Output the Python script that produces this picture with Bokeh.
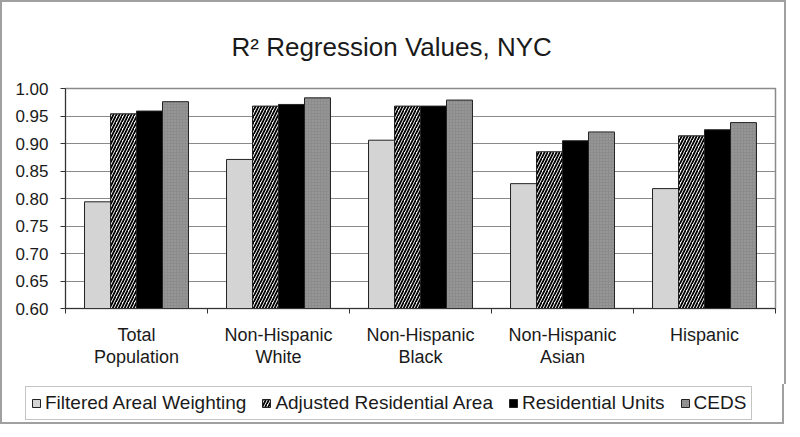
from bokeh.plotting import figure
from bokeh.models import (ColumnDataSource, Range1d, FixedTicker,
                          PrintfTickFormatter, Legend, LegendItem)
from bokeh.transform import dodge
from bokeh.embed import file_html
from bokeh.resources import INLINE

# ---- data ----
categories = ["Total\nPopulation", "Non-Hispanic\nWhite", "Non-Hispanic\nBlack",
              "Non-Hispanic\nAsian", "Hispanic"]
series_names = ["Filtered Areal Weighting", "Adjusted Residential Area",
                "Residential Units", "CEDS"]
faw = [0.794, 0.871, 0.906, 0.827, 0.818]
ara = [0.954, 0.968, 0.968, 0.885, 0.914]
ru = [0.959, 0.971, 0.968, 0.905, 0.925]
ceds = [0.976, 0.983, 0.979, 0.921, 0.938]
y_ticks = [0.60, 0.65, 0.70, 0.75, 0.80, 0.85, 0.90, 0.95, 1.00]

FONT = "Liberation Sans"
TXT = "#1a1a1a"
BORDER = "2px solid #a0a0a0"

pos = [i + 0.5 for i in range(len(categories))]
src = ColumnDataSource(dict(x=pos, faw=faw, ara=ara, ru=ru, ceds=ceds))

p = figure(frame_width=710, frame_height=220, output_backend="svg", toolbar_location=None,
           x_range=Range1d(0, len(categories)), y_range=Range1d(y_ticks[0], y_ticks[-1]),
           min_border_left=63, min_border_right=9, min_border_top=86, min_border_bottom=76)
p.styles = {"border": BORDER, "border-bottom": "none"}

p.title.text = "R\u00b2 Regression Values, NYC"
p.title.text_font = FONT
p.title.text_font_size = "26px"
p.title.text_font_style = "normal"
p.title.text_color = TXT
p.title.align = "left"
p.title.offset = 166
p.title.standoff = 53

bw = 0.183
styles = [
    dict(field="faw", fill_color="#d4d4d4"),
    dict(field="ara", fill_color="white", hatch_pattern="/", hatch_color="black",
         hatch_weight=1.8, hatch_scale=6),
    dict(field="ru", fill_color="black"),
    dict(field="ceds", fill_color="#8c8c8c", hatch_pattern=".", hatch_color="#a4a4a4",
         hatch_weight=1, hatch_scale=3),
]

# legend strip below the chart (its own small figure; its proxy bars are hidden)
p2 = figure(width=784, height=40, output_backend="svg", toolbar_location=None,
            x_range=Range1d(0, len(categories)), y_range=Range1d(0, 1),
            x_axis_type=None, y_axis_type=None, min_border=0)
p2.styles = {"border": BORDER, "border-top": "none"}
p2.outline_line_color = None
p2.grid.visible = False
p2.title.visible = False

items = []
for k, st in enumerate(styles):
    st = dict(st)
    field = st.pop("field")
    p.vbar(x=dodge("x", (k - 1.5) * bw, range=p.x_range), top=field, bottom=y_ticks[0],
           width=bw, source=src, line_color="#222222", line_width=1, **st)
    r2 = p2.vbar(x=dodge("x", (k - 1.5) * bw, range=p2.x_range), top=field,
                 bottom=y_ticks[0], width=bw, source=src, line_color="#222222",
                 line_width=1, visible=False, **st)
    items.append(LegendItem(label=series_names[k], renderers=[r2]))

legend = Legend(items=items, orientation="horizontal", location=(23, 4),
                label_text_font=FONT, label_text_font_size="19px", label_text_color=TXT,
                glyph_width=10, glyph_height=10, label_standoff=4, spacing=15,
                padding=5, margin=0, border_line_color="#8a8a8a", border_line_width=1.5,
                label_height=20, background_fill_color="white", background_fill_alpha=1,
                inactive_fill_alpha=0)
p2.add_layout(legend, "center")

# axes
xa = p.xaxis[0]
xa.ticker = FixedTicker(ticks=pos, minor_ticks=list(range(len(categories) + 1)))
xa.major_label_overrides = {pos[i]: categories[i] for i in range(len(categories))}
xa.major_tick_out = 0
xa.major_tick_in = 0
xa.minor_tick_out = 5
xa.minor_tick_in = 0
xa.major_label_standoff = 11
xa.major_label_text_font = FONT
xa.major_label_text_font_size = "18px"
xa.major_label_text_line_height = 1.1
xa.major_label_text_color = TXT
xa.axis_line_color = "#333333"
xa.minor_tick_line_color = "#333333"

ya = p.yaxis[0]
ya.ticker = FixedTicker(ticks=y_ticks)
ya.formatter = PrintfTickFormatter(format="%.2f")
ya.major_tick_out = 5
ya.major_tick_in = 0
ya.minor_tick_line_color = None
ya.major_label_standoff = 12
ya.major_label_text_font = FONT
ya.major_label_text_font_size = "17px"
ya.major_label_text_color = TXT
ya.axis_line_color = "#333333"
ya.major_tick_line_color = "#333333"

p.xgrid.grid_line_color = None
p.ygrid.grid_line_color = "#8a8a8a"
p.ygrid.grid_line_width = 1
p.outline_line_color = "#8a8a8a"
p.outline_line_width = 1.5

open("out.html", "w").write(file_html([p, p2], INLINE))
